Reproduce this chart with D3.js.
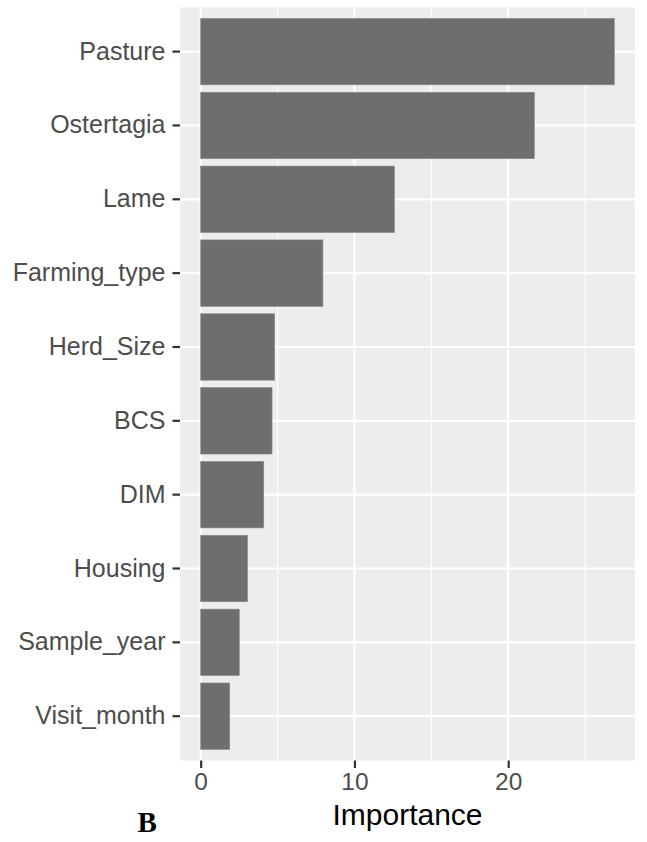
<!DOCTYPE html>
<html>
<head>
<meta charset="utf-8">
<script src="https://cdn.jsdelivr.net/npm/d3@7"></script>
<style>
  html, body { margin: 0; padding: 0; background: #ffffff; }
  svg { display: block; }
</style>
</head>
<body>
<script>
// Variable importance, most important first (top of the chart)
const categories = ["Pasture", "Ostertagia", "Lame", "Farming_type", "Herd_Size",
                    "BCS", "DIM", "Housing", "Sample_year", "Visit_month"];
const importance = [26.9, 21.7, 12.6, 7.95, 4.81, 4.64, 4.10, 3.05, 2.51, 1.89];
const xMajorTicks = [0, 10, 20];
const xMinorTicks = [5, 15, 25];
const xTitle = "Importance";
const panelTag = "B";

const W = 647, H = 842;
const panel = { left: 180, right: 635, top: 7.3, bottom: 760.5 };

const svg = d3.select("body").append("svg")
  .attr("width", W).attr("height", H);

// Continuous x scale with a 5% expansion on each side of [0, max]
const xMax = d3.max(importance);
const pad = xMax * 0.05;
const x = d3.scaleLinear()
  .domain([-pad, xMax + pad])
  .range([panel.left, panel.right]);

// Discrete y scale: bars take 90% of each slot, 0.6 slot of room at the ends
const y = d3.scaleBand()
  .domain(categories)
  .range([panel.top, panel.bottom])
  .paddingInner(0.1)
  .paddingOuter(0.15);

// Panel background
svg.append("rect")
  .attr("x", panel.left).attr("y", panel.top)
  .attr("width", panel.right - panel.left)
  .attr("height", panel.bottom - panel.top)
  .attr("fill", "#ededed");

// Grid lines
const grid = svg.append("g");
grid.selectAll("line.minor").data(xMinorTicks).join("line")
  .attr("class", "minor")
  .attr("x1", d => x(d)).attr("x2", d => x(d))
  .attr("y1", panel.top).attr("y2", panel.bottom)
  .attr("stroke", "#ffffff").attr("stroke-width", 1.1);
grid.selectAll("line.major").data(xMajorTicks).join("line")
  .attr("class", "major")
  .attr("x1", d => x(d)).attr("x2", d => x(d))
  .attr("y1", panel.top).attr("y2", panel.bottom)
  .attr("stroke", "#ffffff").attr("stroke-width", 2.2);
grid.selectAll("line.hmajor").data(categories).join("line")
  .attr("class", "hmajor")
  .attr("x1", panel.left).attr("x2", panel.right)
  .attr("y1", d => y(d) + y.bandwidth() / 2)
  .attr("y2", d => y(d) + y.bandwidth() / 2)
  .attr("stroke", "#ffffff").attr("stroke-width", 2.2);

// Bars
svg.append("g").selectAll("rect").data(categories).join("rect")
  .attr("x", x(0))
  .attr("y", d => y(d))
  .attr("width", (d, i) => x(importance[i]) - x(0))
  .attr("height", y.bandwidth())
  .attr("fill", "#6e6e6e")
  .attr("stroke", "#8c8c8c")
  .attr("stroke-width", 0.6);

// Y axis (category labels)
const yAxis = svg.append("g")
  .attr("transform", `translate(${panel.left},0)`)
  .call(d3.axisLeft(y).tickSize(7.5).tickPadding(7));
yAxis.select(".domain").remove();
yAxis.selectAll(".tick line").attr("stroke", "#333333").attr("stroke-width", 2.2);
yAxis.selectAll(".tick text")
  .attr("fill", "#4d4d4d")
  .style("font-family", "'Liberation Sans', Arial, Helvetica, sans-serif")
  .style("font-size", "25px");

// X axis
const xAxis = svg.append("g")
  .attr("transform", `translate(0,${panel.bottom})`)
  .call(d3.axisBottom(x).tickValues(xMajorTicks).tickFormat(d3.format("d"))
    .tickSize(7.5).tickPadding(5));
xAxis.select(".domain").remove();
xAxis.selectAll(".tick line").attr("stroke", "#333333").attr("stroke-width", 2.2);
xAxis.selectAll(".tick text")
  .attr("fill", "#4d4d4d")
  .style("font-family", "'Liberation Sans', Arial, Helvetica, sans-serif")
  .style("font-size", "24.5px");

// Axis title
svg.append("text")
  .attr("x", (panel.left + panel.right) / 2)
  .attr("y", 825)
  .attr("text-anchor", "middle")
  .attr("fill", "#000000")
  .style("font-family", "'Liberation Sans', Arial, Helvetica, sans-serif")
  .style("font-size", "30px")
  .text(xTitle);

// Panel tag
svg.append("text")
  .attr("x", 137.5)
  .attr("y", 832)
  .attr("fill", "#000000")
  .style("font-family", "'Liberation Serif', 'Times New Roman', serif")
  .style("font-weight", "bold")
  .style("font-size", "29px")
  .text(panelTag);
</script>
</body>
</html>
